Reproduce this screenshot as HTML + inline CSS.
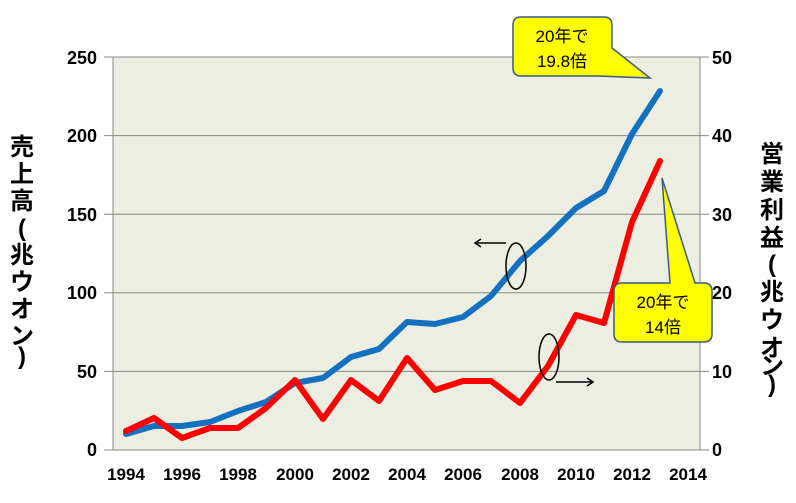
<!DOCTYPE html><html><head><meta charset="utf-8"><style>body{margin:0;background:#fff}svg{display:block}</style></head><body>
<svg width="796" height="503" xmlns="http://www.w3.org/2000/svg" font-family="Liberation Sans, Noto Sans CJK JP, sans-serif">
<rect x="113" y="57" width="587" height="393" fill="#ebeee0"/>
<g stroke="#888" stroke-width="1">
<line x1="104" y1="57" x2="709" y2="57"/><line x1="104" y1="135.6" x2="709" y2="135.6"/><line x1="104" y1="214.2" x2="709" y2="214.2"/><line x1="104" y1="292.8" x2="709" y2="292.8"/><line x1="104" y1="371.4" x2="709" y2="371.4"/><line x1="104" y1="450" x2="709" y2="450"/>
<line x1="113" y1="57" x2="113" y2="450"/><line x1="700" y1="57" x2="700" y2="450"/>
</g>
<g font-size="18" font-weight="bold" text-anchor="end" fill="#000">
<text x="97" y="64">250</text><text x="97" y="142">200</text><text x="97" y="221">150</text><text x="97" y="299">100</text><text x="97" y="378">50</text><text x="97" y="456">0</text>
</g>
<g font-size="18" font-weight="bold" fill="#000">
<text x="712" y="64">50</text><text x="712" y="142">40</text><text x="712" y="221">30</text><text x="712" y="299">20</text><text x="712" y="378">10</text><text x="712" y="456">0</text>
</g>
<g font-size="17" font-weight="bold" text-anchor="middle">
<text x="126" y="480">1994</text><text x="182" y="480">1996</text><text x="238" y="480">1998</text><text x="295" y="480">2000</text><text x="351" y="480">2002</text><text x="407" y="480">2004</text><text x="463" y="480">2006</text><text x="520" y="480">2008</text><text x="576" y="480">2010</text><text x="632" y="480">2012</text><text x="688" y="480">2014</text>
</g>
<g font-size="24" font-weight="bold" text-anchor="middle">
<text x="22" y="155">売</text><text x="22" y="182">上</text><text x="22" y="209">高</text><text x="22" y="236">(</text><text x="22" y="263">兆</text><text x="22" y="290">ウ</text><text x="22" y="317">オ</text><text x="22" y="344">ン</text><text x="22" y="364">)</text>
<text x="772" y="162">営</text><text x="772" y="190">業</text><text x="772" y="218">利</text><text x="772" y="246">益</text><text x="772" y="272">(</text><text x="772" y="300">兆</text><text x="772" y="328">ウ</text><text x="772" y="356">オ</text><text x="772" y="374">ン</text><text x="772" y="392">)</text>
</g>
<polyline fill="none" stroke="#1570c0" stroke-width="6" stroke-linejoin="round" stroke-linecap="round" points="126,434 154,426 182,426 210,422 238,411 266,402 295,383 323,378 351,357 379,349 407,322 435,324 463,317 491,296 520,261 548,236 576,208 604,191 632,134 660,91"/>
<polyline fill="none" stroke="#ff0000" stroke-width="6" stroke-linejoin="round" stroke-linecap="round" points="126,431 154,418 182,438 210,428 238,428 266,408 295,380 323,419 351,380 379,401 407,358 435,390 463,381 491,381 520,403 548,366 576,315 604,323 632,222 660,161"/>
<g stroke="#000" stroke-width="1.5" fill="none">
<ellipse cx="516" cy="266" rx="10" ry="23"/><line x1="506" y1="243" x2="475" y2="243"/><polyline points="481,239 475,243 481,247"/>
<ellipse cx="549" cy="357" rx="10" ry="23"/><line x1="556" y1="382" x2="593" y2="382"/><polyline points="587,378 593,382 587,386"/>
</g>
<path d="M521,17 H604 Q612,17 612,25 V48 L650,78 L598,76 H521 Q513,76 513,68 V25 Q513,17 521,17 Z" fill="#ffff00" stroke="#3a5a80" stroke-width="1.5"/>
<text x="562" y="42" font-size="17" text-anchor="middle">20年で</text><text x="562" y="67" font-size="17" text-anchor="middle">19.8倍</text>
<path d="M622,283 H670 L662,178 L695,283 H704 Q712,283 712,291 V334 Q712,342 704,342 H622 Q614,342 614,334 V291 Q614,283 622,283 Z" fill="#ffff00" stroke="#3a5a80" stroke-width="1.5"/>
<text x="663" y="308" font-size="17" text-anchor="middle">20年で</text><text x="663" y="333" font-size="17" text-anchor="middle">14倍</text>
</svg></body></html>
